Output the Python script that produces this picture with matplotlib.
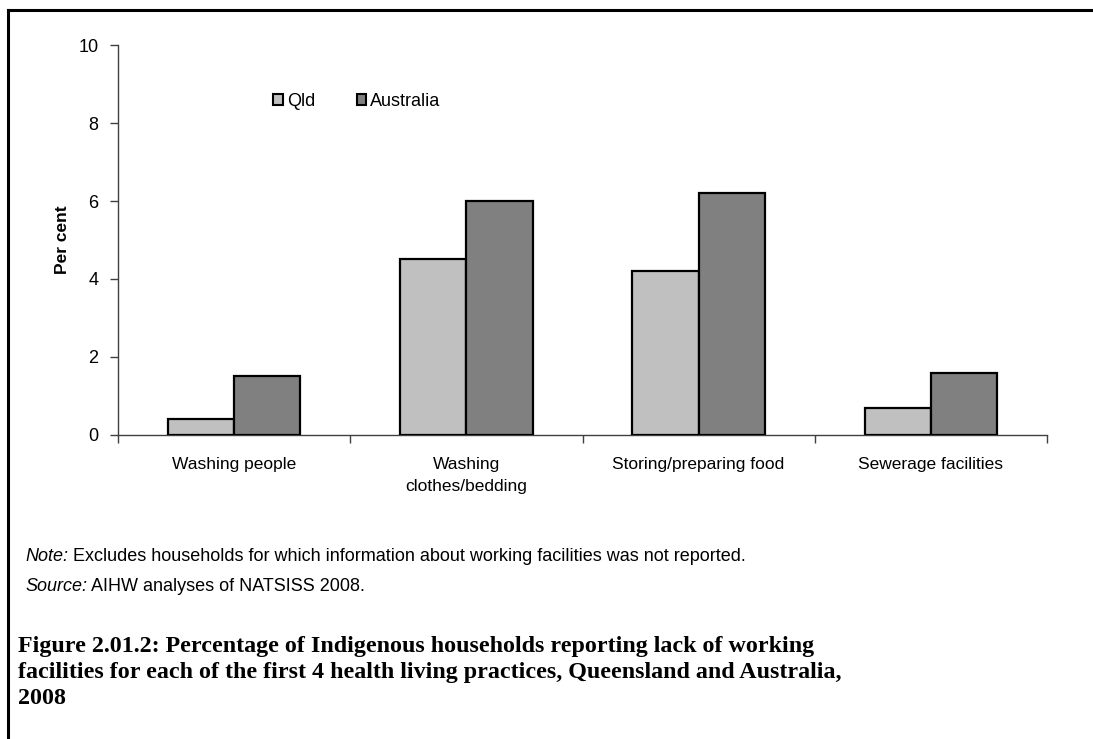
import numpy as np
import matplotlib.pyplot as plt
from matplotlib.lines import Line2D
from matplotlib.patches import Patch

# data
categories = ['Washing people', 'Washing\nclothes/bedding', 'Storing/preparing food', 'Sewerage facilities']
qld = [0.4, 4.5, 4.2, 0.7]
australia = [1.5, 6.0, 6.2, 1.6]
series_names = ['Qld', 'Australia']
yticks = [0, 2, 4, 6, 8, 10]

plt.rcParams['font.family'] = ['Liberation Sans', 'DejaVu Sans']

fig = plt.figure(figsize=(10.93, 7.39), dpi=100)
ax = fig.add_axes([118/1093, 1 - 435/739, 929/1093, 390/739])

x = np.arange(len(categories))
w = 0.285
ax.bar(x - w/2, qld, w, color='#c0c0c0', edgecolor='black', linewidth=1.6, label=series_names[0], zorder=3)
ax.bar(x + w/2, australia, w, color='#808080', edgecolor='black', linewidth=1.6, label=series_names[1], zorder=3)

ax.set_xlim(-0.5, len(categories) - 0.5)
ax.set_ylim(0, 10)
ax.set_yticks(yticks)
ax.set_yticklabels([str(t) for t in yticks], fontsize=13)
ax.set_xticks(np.arange(-0.5, len(categories), 1.0))
ax.set_xticklabels([])
ax.set_xticks(x, minor=True)
ax.set_xticklabels(categories, minor=True, fontsize=12.5, linespacing=1.55)
ax.tick_params(axis='x', which='minor', length=0, pad=16)
ax.tick_params(axis='x', which='major', length=6, width=1, color='#404040', direction='out')
ax.tick_params(axis='y', length=6, width=1, color='#404040', direction='out', pad=8)

for side in ['top', 'right']:
    ax.spines[side].set_visible(False)
for side in ['left', 'bottom']:
    ax.spines[side].set_color('#404040')
    ax.spines[side].set_linewidth(1.0)

ax.set_ylabel('Per cent', fontsize=12.5, fontweight='bold', labelpad=6)

handles = [Patch(facecolor='#c0c0c0', edgecolor='black', linewidth=1.5),
           Patch(facecolor='#808080', edgecolor='black', linewidth=1.5)]
ax.legend(handles, series_names, ncol=2, frameon=False, fontsize=13,
          loc='center left', bbox_to_anchor=(148/929, (435 - 101)/390),
          handlelength=0.55, handleheight=0.55, handletextpad=0.2, columnspacing=2.3,
          borderaxespad=0)

# notes: italic lead word followed by plain text
note_lead = fig.text(25/1093, 1 - 565/739, 'Note:', fontsize=13, style='italic', va='bottom')
ax.annotate(' Excludes households for which information about working facilities was not reported.',
            xy=(1, 0), xycoords=note_lead, va='bottom', fontsize=13, annotation_clip=False)
src_lead = fig.text(25/1093, 1 - 595/739, 'Source:', fontsize=13, style='italic', va='bottom')
ax.annotate(' AIHW analyses of NATSISS 2008.',
            xy=(1, 0), xycoords=src_lead, va='bottom', fontsize=13, annotation_clip=False)

title = ('Figure 2.01.2: Percentage of Indigenous households reporting lack of working\n'
         'facilities for each of the first 4 health living practices, Queensland and Australia,\n'
         '2008')
fig.text(18/1093, 1 - 636/739, title, fontsize=17.3, fontweight='bold', va='top',
         family=['Liberation Serif', 'DejaVu Serif'], linespacing=1.3)

# outer frame (top and left)
fig.add_artist(Line2D([8/1093, 1.0], [1 - 10/739, 1 - 10/739], color='black', linewidth=2.2, transform=fig.transFigure))
fig.add_artist(Line2D([8/1093, 8/1093], [1 - 10/739, 0.0], color='black', linewidth=2.2, transform=fig.transFigure))

fig.savefig('out.png', dpi=100)
